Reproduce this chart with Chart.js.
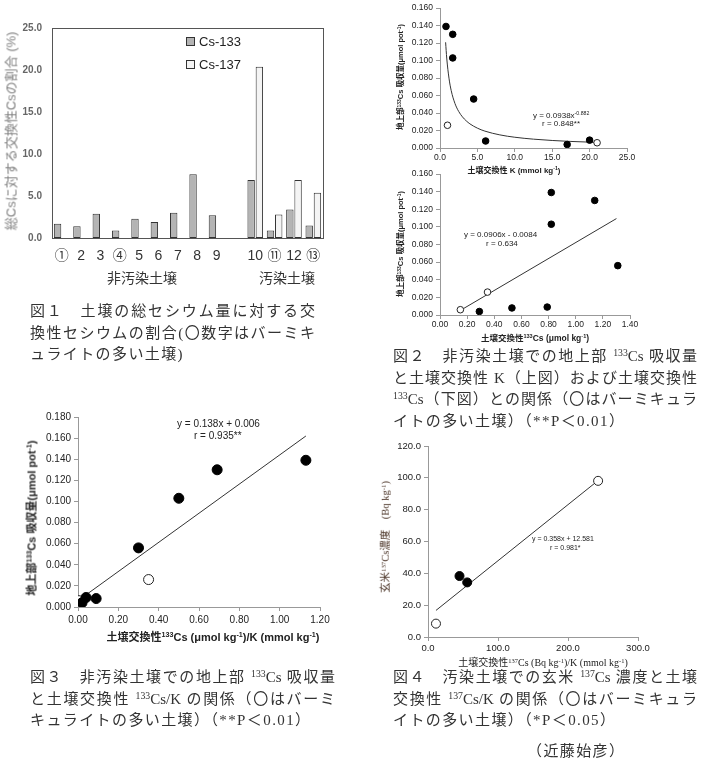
<!DOCTYPE html>
<html lang="ja">
<head>
<meta charset="UTF-8">
<title>交換性セシウムと吸収量</title>
<script src="https://cdn.jsdelivr.net/npm/chart.js"></script>
<style>
  body { margin: 0; background: #fff; }
  #page { position: relative; width: 705px; height: 766px; overflow: hidden;
          font-family: "Liberation Sans", Arial, "Noto Sans CJK JP", sans-serif; color: #222; }
  canvas { position: absolute; }
  .lbl { position: absolute; white-space: nowrap; transform: translate(-50%, -50%); line-height: 1; }
  .rot { transform: translate(-50%, -50%) rotate(-90deg); }
  .eq { position: absolute; white-space: nowrap; transform: translateY(-50%); line-height: 1; }
  sup { font-size: 65%; vertical-align: 0.5em; line-height: 0; }
  .box { position: absolute; width: 9px; height: 9px; border: 1px solid #333; box-sizing: border-box; }
  .cap { position: absolute; font-family: "Liberation Serif", "Noto Sans CJK JP", serif;
         font-size: 15px; line-height: 21.5px; color: #333; }
  .cap div { white-space: nowrap; letter-spacing: 1.4px; }
  .cap div.j { text-align: justify; text-align-last: justify; letter-spacing: 0; }
  .serif { font-family: "Liberation Serif", "Noto Sans CJK JP", serif; }
</style>
</head>
<body>
<div id="page">
  <canvas id="fig1" width="335" height="290" style="left:0;top:0"></canvas>
  <canvas id="fig2a" width="265" height="180" style="left:393px;top:0"></canvas>
  <canvas id="fig2b" width="265" height="180" style="left:393px;top:165px"></canvas>
  <canvas id="fig3" width="320" height="242" style="left:20px;top:405px"></canvas>
  <canvas id="fig4" width="282" height="238" style="left:376px;top:435px"></canvas>

  <!-- 図1 -->
  <div class="lbl rot" style="left:11px;top:131px;font-size:13px;color:#7f7f7f">総Csに対する交換性Csの割合 (%)</div>
  <div class="box" style="left:186px;top:37px;background:#b4b4b4"></div>
  <div class="eq" style="left:199px;top:41px;font-size:13px">Cs-133</div>
  <div class="box" style="left:186px;top:60px;background:#f4f4f4"></div>
  <div class="eq" style="left:199px;top:64px;font-size:13px">Cs-137</div>
  <div class="lbl" style="left:142px;top:278px;font-size:14px;color:#333">非汚染土壌</div>
  <div class="lbl" style="left:287px;top:278px;font-size:14px;color:#333">汚染土壌</div>

  <!-- 図2 上 -->
  <div class="lbl rot" style="left:401px;top:77px;font-size:7.5px;font-weight:bold">地上部<sup>133</sup>Cs 吸収量(μmol pot<sup>-1</sup>)</div>
  <div class="lbl" style="left:514px;top:171px;font-size:8px;font-weight:bold">土壌交換性 K (mmol kg<sup>-1</sup>)</div>
  <div class="eq" style="left:533px;top:116px;font-size:8px">y = 0.0938x<sup>-0.882</sup></div>
  <div class="eq" style="left:542px;top:124px;font-size:8px">r = 0.848**</div>

  <!-- 図2 下 -->
  <div class="lbl rot" style="left:401px;top:244px;font-size:7.5px;font-weight:bold">地上部<sup>133</sup>Cs 吸収量(μmol pot<sup>-1</sup>)</div>
  <div class="lbl" style="left:535px;top:338px;font-size:8.5px;font-weight:bold">土壌交換性<sup>133</sup>Cs (μmol kg<sup>-1</sup>)</div>
  <div class="eq" style="left:464px;top:235px;font-size:8px">y = 0.0906x - 0.0084</div>
  <div class="eq" style="left:486px;top:244px;font-size:8px">r = 0.634</div>

  <!-- 図3 -->
  <div class="lbl rot" style="left:32px;top:518px;font-size:11px;font-weight:bold">地上部<sup>133</sup>Cs 吸収量(μmol pot<sup>-1</sup>)</div>
  <div class="lbl" style="left:213px;top:637px;font-size:11px;font-weight:bold">土壌交換性<sup>133</sup>Cs (μmol kg<sup>-1</sup>)/K (mmol kg<sup>-1</sup>)</div>
  <div class="eq" style="left:177px;top:424px;font-size:10px">y = 0.138x + 0.006</div>
  <div class="eq" style="left:194px;top:436px;font-size:10px">r = 0.935**</div>

  <!-- 図4 -->
  <div class="lbl rot serif" style="left:386px;top:537px;font-size:10.5px;color:#4a3326">玄米<sup>137</sup>Cs濃度　(Bq kg<sup>-1</sup>)</div>
  <div class="lbl serif" style="left:543px;top:663px;font-size:10px">土壌交換性<sup>137</sup>Cs (Bq kg<sup>-1</sup>)/K (mmol kg<sup>-1</sup>)</div>
  <div class="eq" style="left:532px;top:538px;font-size:7px">y = 0.358x + 12.581</div>
  <div class="eq" style="left:550px;top:547px;font-size:7px">r = 0.981*</div>

  <!-- captions -->
  <div class="cap" style="left:30px;top:301px;width:285px">
    <div class="j">図１　土壌の総セシウム量に対する交</div>
    <div class="j">換性セシウムの割合(〇数字はバーミキ</div>
    <div>ュライトの多い土壌)</div>
  </div>
  <div class="cap" style="left:393px;top:346px;width:304px">
    <div class="j">図２　非汚染土壌での地上部 <sup>133</sup>Cs 吸収量</div>
    <div class="j">と土壌交換性 K（上図）および土壌交換性</div>
    <div class="j"><sup>133</sup>Cs（下図）との関係（〇はバーミキュラ</div>
    <div>イトの多い土壌）（**P＜0.01）</div>
  </div>
  <div class="cap" style="left:30px;top:667px;width:305px">
    <div class="j">図３　非汚染土壌での地上部 <sup>133</sup>Cs 吸収量</div>
    <div class="j">と土壌交換性 <sup>133</sup>Cs/K の関係（〇はバーミ</div>
    <div>キュライトの多い土壌）（**P＜0.01）</div>
  </div>
  <div class="cap" style="left:393px;top:667px;width:304px">
    <div class="j">図４　汚染土壌での玄米 <sup>137</sup>Cs 濃度と土壌</div>
    <div class="j">交換性 <sup>137</sup>Cs/K の関係（〇はバーミキュラ</div>
    <div>イトの多い土壌）（*P＜0.05）</div>
  </div>
  <div class="cap" style="left:527px;top:741px"><div>（近藤始彦）</div></div>
</div>

<script>
// 図1: 交換性Csの割合 (%)
const soilLabels = ['①', '2', '3', '④', '5', '6', '7', '8', '9', '', '10', '⑪', '12', '⑬'];
const cs133Ratio = [1.7, 1.4, 2.9, 0.9, 2.3, 1.9, 3.0, 7.6, 2.7, null, 6.9, 0.9, 3.4, 1.5];
const cs137Ratio = [null, null, null, null, null, null, null, null, null, null, 20.4, 2.8, 6.9, 5.4];

// 図2 上: 土壌交換性K vs 地上部133Cs吸収量
const kFilled = [0.8, 1.7, 1.7, 4.5, 6.1, 17.0, 20.0];
const kFilledUptake = [0.139, 0.130, 0.103, 0.056, 0.008, 0.004, 0.009];
const kOpen = [1.0, 21.0];
const kOpenUptake = [0.026, 0.006];
const kFitX = [0.75, 0.9, 1.2, 1.5, 2, 2.5, 3, 3.5, 4, 5, 6, 8, 10, 12.5, 15, 17.5, 21];
const kFitY = [0.1209, 0.1029, 0.0799, 0.0656, 0.0509, 0.0418, 0.0356, 0.0311, 0.0276, 0.0227, 0.0193, 0.0150, 0.0123, 0.0101, 0.0086, 0.0075, 0.0064];

// 図2 下: 土壌交換性133Cs vs 吸収量
const csFilled = [0.82, 1.14, 0.82, 1.31, 0.79, 0.29, 0.53];
const csFilledUptake = [0.139, 0.130, 0.103, 0.056, 0.009, 0.004, 0.008];
const csOpen = [0.15, 0.35];
const csOpenUptake = [0.006, 0.026];
const csFitX = [0.15, 1.30];
const csFitY = [0.0052, 0.1094];

// 図3: 133Cs/K vs 吸収量
const ratioFilled = [1.13, 0.69, 0.50, 0.30, 0.09, 0.04, 0.02];
const ratioFilledUptake = [0.139, 0.130, 0.103, 0.056, 0.008, 0.009, 0.004];
const ratioOpen = [0.35, 0.005];
const ratioOpenUptake = [0.026, 0.006];
const ratioFitX = [0.005, 1.13];
const ratioFitY = [0.0067, 0.162];

// 図4: 137Cs/K vs 玄米137Cs濃度
const riceFilled = [45, 56];
const riceFilledConc = [38.3, 34.3];
const riceOpen = [11.4, 243];
const riceOpenConc = [8.4, 98.1];
const riceFitX = [11.4, 243];
const riceFitY = [16.7, 98.3];

Chart.defaults.font.family = '"Liberation Sans", Arial, "Noto Sans CJK JP", "DejaVu Sans", sans-serif';

function xy(xs, ys) {
    return xs.map((x, i) => ({ x: x, y: ys[i] }));
}

// frame around plot area (図1)
const framePlugin = {
    id: 'frame',
    afterDraw(chart) {
        const a = chart.chartArea, ctx = chart.ctx;
        ctx.save();
        ctx.strokeStyle = '#555';
        ctx.lineWidth = 1;
        ctx.strokeRect(Math.round(a.left) + 0.5, Math.round(a.top) + 0.5, Math.round(a.width), Math.round(a.height));
        ctx.restore();
    }
};

new Chart(document.getElementById('fig1'), {
    type: 'bar',
    data: {
        labels: soilLabels,
        datasets: [
            { label: 'Cs-133', data: cs133Ratio, backgroundColor: '#b4b4b4', borderColor: '#333', borderWidth: 1,
              borderSkipped: false, categoryPercentage: 0.85, barPercentage: 0.9 },
            { label: 'Cs-137', data: cs137Ratio, backgroundColor: '#f4f4f4', borderColor: '#333', borderWidth: 1,
              borderSkipped: false, categoryPercentage: 0.85, barPercentage: 0.9 }
        ]
    },
    options: {
        responsive: false, animation: false, events: [],
        layout: { padding: { top: 28, right: 12, left: 0, bottom: 0 } },
        plugins: { legend: { display: false }, tooltip: { enabled: false } },
        scales: {
            x: {
                grid: { display: false, drawTicks: false }, border: { display: false },
                ticks: { autoSkip: false, maxRotation: 0, font: { size: 14 }, color: '#333', padding: 10 },
                afterFit: s => { s.height = 52; }
            },
            y: {
                min: 0, max: 25,
                grid: { display: false, drawTicks: false }, border: { display: false },
                ticks: { stepSize: 5, callback: v => v.toFixed(1), font: { size: 10, weight: 'bold' }, color: '#666', padding: 10 },
                afterFit: s => { s.width = 52; }
            }
        }
    },
    plugins: [framePlugin]
});

function scatterChart(id, c) {
    const axis = (min, max, step, dec, size, pad, fit) => ({
        type: 'linear', min: min, max: max,
        grid: { drawOnChartArea: false, drawTicks: true, tickLength: 4, color: '#999' },
        border: { color: '#999' },
        ticks: { stepSize: step, autoSkip: false, maxRotation: 0, callback: v => v.toFixed(dec),
                 font: { size: size }, color: '#222', padding: pad },
        afterFit: fit
    });
    return new Chart(document.getElementById(id), {
        type: 'scatter',
        data: {
            datasets: [
                { data: xy(c.filledX, c.filledY), pointRadius: c.r, pointBackgroundColor: '#000', pointBorderColor: '#000' },
                { data: xy(c.openX, c.openY), pointRadius: c.r, pointBackgroundColor: '#fff', pointBorderColor: '#222', pointBorderWidth: 1 },
                { data: xy(c.fitX, c.fitY), showLine: true, pointRadius: 0, borderColor: '#333', borderWidth: 1,
                  cubicInterpolationMode: c.curve ? 'monotone' : 'default' }
            ]
        },
        options: {
            responsive: false, animation: false, events: [],
            layout: { padding: c.pad },
            plugins: { legend: { display: false }, tooltip: { enabled: false } },
            scales: {
                x: axis(c.x[0], c.x[1], c.x[2], c.x[3], c.font, c.xPad, s => { s.height = c.xH; }),
                y: axis(c.y[0], c.y[1], c.y[2], c.y[3], c.font, 3, s => { s.width = c.yW; })
            }
        }
    });
}

scatterChart('fig2a', {
    filledX: kFilled, filledY: kFilledUptake, openX: kOpen, openY: kOpenUptake,
    fitX: kFitX, fitY: kFitY, curve: true, r: 3.3,
    x: [0, 25, 5, 1], y: [0, 0.16, 0.02, 3], font: 8.5, xPad: 1,
    pad: { top: 7, right: 31, left: 0, bottom: 0 }, xH: 32, yW: 47
});

scatterChart('fig2b', {
    filledX: csFilled, filledY: csFilledUptake, openX: csOpen, openY: csOpenUptake,
    fitX: csFitX, fitY: csFitY, curve: false, r: 3.3,
    x: [0, 1.4, 0.2, 2], y: [0, 0.16, 0.02, 3], font: 8.5, xPad: 1,
    pad: { top: 9, right: 28, left: 0, bottom: 0 }, xH: 30, yW: 47
});

scatterChart('fig3', {
    filledX: ratioFilled, filledY: ratioFilledUptake, openX: ratioOpen, openY: ratioOpenUptake,
    fitX: ratioFitX, fitY: ratioFitY, curve: false, r: 5,
    x: [0, 1.2, 0.2, 2], y: [0, 0.18, 0.02, 3], font: 10, xPad: 3,
    pad: { top: 12, right: 20, left: 0, bottom: 0 }, xH: 40, yW: 58
});

scatterChart('fig4', {
    filledX: riceFilled, filledY: riceFilledConc, openX: riceOpen, openY: riceOpenConc,
    fitX: riceFitX, fitY: riceFitY, curve: false, r: 4.5,
    x: [0, 300, 100, 1], y: [0, 120, 20, 1], font: 9.5, xPad: 2,
    pad: { top: 11, right: 20, left: 0, bottom: 0 }, xH: 36, yW: 52
});
</script>
</body>
</html>
